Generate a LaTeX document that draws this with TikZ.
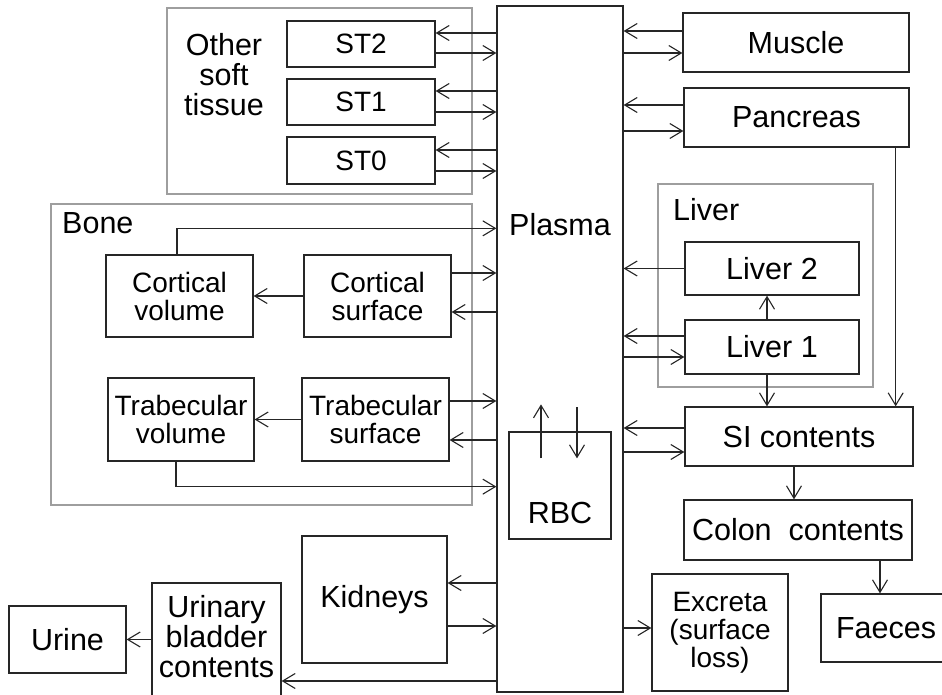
\documentclass[tikz,border=0pt]{standalone}
\usepackage{fontspec}
\setmainfont{Liberation Sans}
\usetikzlibrary{arrows.meta,calc}
\begin{document}
\begin{tikzpicture}[x=1pt,y=-1pt,
  every node/.style={font=\fontsize{30.5}{30}\selectfont},
  small/.style={font=\fontsize{28}{28}\selectfont},
  box/.style={draw=black!85,line width=1.3pt,inner sep=0pt,align=center},
  grp/.style={draw=black!38,line width=1.1pt,inner sep=0pt},
  arr/.style={draw=black!85,line width=1.25pt,-{Straight Barb[length=12.5pt,width=15pt,line width=1.1pt]}},
  lbl/.style={inner sep=0pt,align=center}]
\useasboundingbox (0,0) rectangle (942,695);
\clip (0,0) rectangle (942,695);
% groups
\node[grp, minimum width=305pt, minimum height=186pt] (softgrp) at (319.5,101) {};
\node[grp, minimum width=421pt, minimum height=301pt] (bonegrp) at (261.5,354.5) {};
\node[grp, minimum width=215pt, minimum height=203pt] (livergrp) at (765.5,285.5) {};
% plasma
\node[box, minimum width=126pt, minimum height=686pt] (plasma) at (560,349) {};
\node[lbl] (plasmatxt) at (560,225) {Plasma};
% soft tissue
\node[lbl] (softtxt) at (224,75) {Other\\soft\\tissue};
\node[box, small, minimum width=148pt, minimum height=46pt] (st2) at (361,44) {ST2};
\node[box, small, minimum width=148pt, minimum height=46pt] (st1) at (361,102) {ST1};
\node[box, small, minimum width=148pt, minimum height=47pt] (st0) at (361,160.5) {ST0};
\draw[arr] ($(st2.east -| plasma.west)+(0,11pt)$) -- ($(st2.east)+(0,11pt)$);
\draw[arr] ($(st2.east)+(0,-9pt)$) -- ($(st2.east -| plasma.west)+(0,-9pt)$);
\draw[arr] ($(st1.east -| plasma.west)+(0,11pt)$) -- ($(st1.east)+(0,11pt)$);
\draw[arr] ($(st1.east)+(0,-10pt)$) -- ($(st1.east -| plasma.west)+(0,-10pt)$);
\draw[arr] ($(st0.east -| plasma.west)+(0,10.5pt)$) -- ($(st0.east)+(0,10.5pt)$);
\draw[arr] ($(st0.east)+(0,-10.5pt)$) -- ($(st0.east -| plasma.west)+(0,-10.5pt)$);
% bone
\node[lbl, anchor=west] (bonetxt) at (62,223) {Bone};
\node[box, small, minimum width=147pt, minimum height=82pt] (cv) at (179.5,296) {Cortical\\volume};
\node[box, small, minimum width=147pt, minimum height=82pt] (cs) at (377.5,296) {Cortical\\surface};
\node[box, small, minimum width=146pt, minimum height=83pt] (tv) at (181,419.5) {Trabecular\\volume};
\node[box, small, minimum width=147pt, minimum height=83pt] (ts) at (375.5,419.5) {Trabecular\\surface};
\draw[arr] ($(cv.north)+(-2.5pt,0)$) |- ($(cv.north -| plasma.west)+(0,26pt)$);
\draw[arr] ($(cs.east)+(0,23pt)$) -- ($(cs.east -| plasma.west)+(0,23pt)$);
\draw[arr] ($(cs.east -| plasma.west)+(0,-16pt)$) -- ($(cs.east)+(0,-16pt)$);
\draw[arr] (cs) -- (cv);
\draw[arr] ($(ts.east)+(0,18.5pt)$) -- ($(ts.east -| plasma.west)+(0,18.5pt)$);
\draw[arr] ($(ts.east -| plasma.west)+(0,-20.5pt)$) -- ($(ts.east)+(0,-20.5pt)$);
\draw[arr] (ts) -- (tv);
\draw[arr] ($(tv.south)+(-5pt,0)$) |- ($(tv.south -| plasma.west)+(0,-25pt)$);
% RBC
\node[box, minimum width=102pt, minimum height=107pt] (rbc) at (560,485.5) {};
\node[lbl] (rbctxt) at (560,513) {RBC};
\draw[arr] ($(rbc.north)+(-19pt,-27pt)$) -- ($(rbc.north)+(-19pt,27pt)$);
\draw[arr] ($(rbc.north)+(17pt,24pt)$) -- ($(rbc.north)+(17pt,-27pt)$);
% right side
\node[box, minimum width=226pt, minimum height=59pt] (muscle) at (796,42.5) {Muscle};
\node[box, minimum width=225pt, minimum height=59pt] (pancreas) at (796.5,117.5) {Pancreas};
\draw[arr] ($(muscle.west)+(0,11.5pt)$) -- ($(muscle.west -| plasma.east)+(0,11.5pt)$);
\draw[arr] ($(muscle.west -| plasma.east)+(0,-10.5pt)$) -- ($(muscle.west)+(0,-10.5pt)$);
\draw[arr] ($(pancreas.west)+(0,12.5pt)$) -- ($(pancreas.west -| plasma.east)+(0,12.5pt)$);
\draw[arr] ($(pancreas.west -| plasma.east)+(0,-13.5pt)$) -- ($(pancreas.west)+(0,-13.5pt)$);
\node[lbl, anchor=west] (livertxt) at (673,210) {Liver};
\node[box, minimum width=174pt, minimum height=53pt] (l2) at (772,268.5) {Liver 2};
\node[box, minimum width=174pt, minimum height=54pt] (l1) at (772,347) {Liver 1};
\node[box, minimum width=228pt, minimum height=59pt] (si) at (799,436.5) {SI contents};
\node[box, minimum width=228pt, minimum height=60pt] (colon) at (798,530) {Colon\ \ contents};
\node[box, minimum width=139pt, minimum height=68pt] (faeces) at (890.5,628) {\hspace*{-9pt}Faeces};
\node[box, small, minimum width=136pt, minimum height=117pt] (excreta) at (720,632.5) {Excreta\\(surface\\loss)};
\draw[arr] (l2.west) -- (l2.west -| plasma.east);
\draw[arr] ($(l1.west)+(0,11pt)$) -- ($(l1.west -| plasma.east)+(0,11pt)$);
\draw[arr] ($(l1.west -| plasma.east)+(0,-10pt)$) -- ($(l1.west)+(0,-10pt)$);
\draw[arr] ($(l1.north)+(-5pt,0)$) -- ($(l2.south)+(-5pt,0)$);
\coordinate (ld) at ($(l1.south)+(-5pt,0)$);
\draw[arr] (ld) -- (ld |- si.north);
\coordinate (pd) at ($(pancreas.south east)+(-14pt,0)$);
\draw[arr] (pd) -- (pd |- si.north);
\draw[arr] ($(si.west)+(0,8.5pt)$) -- ($(si.west -| plasma.east)+(0,8.5pt)$);
\draw[arr] ($(si.west -| plasma.east)+(0,-15.5pt)$) -- ($(si.west)+(0,-15.5pt)$);
\coordinate (sd) at ($(si.south)+(-5pt,0)$);
\draw[arr] (sd) -- (sd |- colon.north);
\coordinate (cd) at ($(colon.south)+(82pt,0)$);
\draw[arr] (cd) -- (cd |- faeces.north);
\draw[arr] ($(excreta.west -| plasma.east)+(0,4.5pt)$) -- ($(excreta.west)+(0,4.5pt)$);
% bottom left
\node[box, minimum width=145pt, minimum height=127pt] (kidneys) at (374.5,599.5) {Kidneys};
\node[box, minimum width=129pt, minimum height=122pt] (bladder) at (216.5,644) {};
\node[lbl] (bladdertxt) at (216.5,637) {Urinary\\bladder\\contents};
\node[box, minimum width=117pt, minimum height=67pt] (urine) at (67.5,639.5) {Urine};
\draw[arr] ($(kidneys.east -| plasma.west)+(0,16.5pt)$) -- ($(kidneys.east)+(0,16.5pt)$);
\draw[arr] ($(kidneys.east)+(0,-26.5pt)$) -- ($(kidneys.east -| plasma.west)+(0,-26.5pt)$);
\draw[arr] ($(bladder.east -| plasma.west)+(0,-37pt)$) -- ($(bladder.east)+(0,-37pt)$);
\draw[arr] (bladder.west |- urine.east) -- (urine.east);
\end{tikzpicture}
\end{document}
